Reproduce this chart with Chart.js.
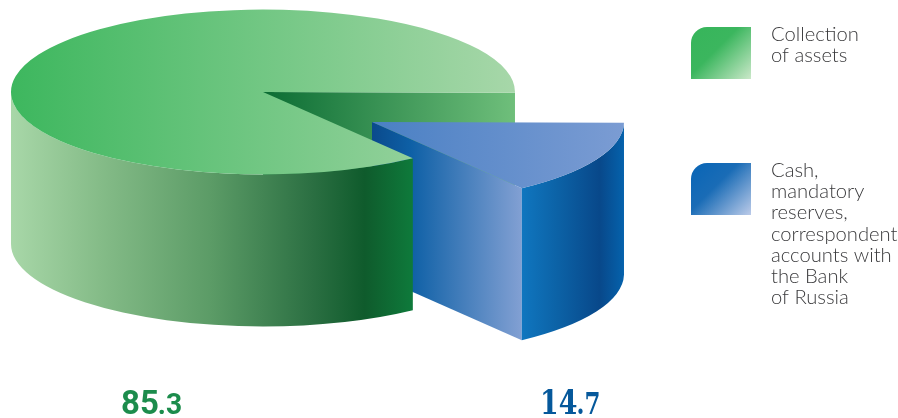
<!DOCTYPE html>
<html>
<head>
<meta charset="utf-8">
<title>Assets</title>
<script src="https://cdn.jsdelivr.net/npm/chart.js@4"></script>
<style>
  html, body { margin: 0; padding: 0; background: #fff; }
  #box { position: relative; width: 898px; height: 418px; overflow: hidden; }
</style>
</head>
<body>
<div id="box"><canvas id="pie" width="898" height="418"></canvas></div>
<script>
// drawn clockwise from 3 o'clock, the small slice first
var categories = ['Cash, mandatory reserves, correspondent accounts with the Bank of Russia', 'Collection of assets'];
var values = [14.7, 85.3];
var legendLines = [
    ['Cash,', 'mandatory', 'reserves,', 'correspondent', 'accounts with', 'the Bank', 'of Russia'],
    ['Collection', 'of assets']
];

var TILT = 0.327;
var DEPTH = 152;
var RADIUS = 252;

var looks = [
    {
        pos: { x: 372, y: 122 },
        top: [[0, '#4a80c4'], [1, '#7b9cd3']],
        cut: [[0, '#0a4a8c'], [0.26, '#0e60a6'], [1, '#82a0d3']],
        side: [[0, '#0f76bf'], [0.35, '#0c62a6'], [0.76, '#08488a'], [1, '#0562ac']],
        swatch: { x: 691, y: 163, w: 60, h: 52, from: '#0b66b6', mid: '#1a6cb6', to: '#bccbe9' },
        textY: 177,
        value: { x: 540, color: '#05589b', font: '"DejaVu Serif"', squeeze: 0.79 }
    },
    {
        pos: { x: 263, y: 92 },
        top: [[0, '#3db75e'], [1, '#a7d7a9']],
        cut: [[0, '#0b6c33'], [1, '#6fbf7b']],
        side: [[0, '#a8d7a8'], [0.22, '#85bc88'], [0.5, '#5b9b66'], [0.75, '#2b6f42'], [0.88, '#0f5b2c'], [1, '#0e7a3b']],
        swatch: { x: 691, y: 27, w: 60, h: 52, from: '#37b55b', mid: '#3bb65e', to: '#cbe8c9' },
        textY: 41,
        value: { x: 121, color: '#1c8c4c', font: 'Roboto', squeeze: 0.97 }
    }
];

function horizontal(ctx, x0, x1, stops) {
    var g = ctx.createLinearGradient(x0, 0, x1, 0);
    stops.forEach(function (s) { g.addColorStop(s[0], s[1]); });
    return g;
}

// straight walls of the slice, only those turned to the viewer
function drawCutWalls(ctx, arc, look) {
    var p = look.pos, r = arc.outerRadius, ry = r * TILT;
    [[arc.endAngle, 1], [arc.startAngle, -1]].forEach(function (w) {
        var c = Math.cos(w[0]), s = Math.sin(w[0]);
        if (c * w[1] <= 0) return;
        var rx = p.x + r * c, rimY = p.y + ry * s;
        ctx.beginPath();
        ctx.moveTo(p.x, p.y);
        ctx.lineTo(rx, rimY);
        ctx.lineTo(rx, rimY + DEPTH);
        ctx.lineTo(p.x, p.y + DEPTH);
        ctx.closePath();
        ctx.fillStyle = horizontal(ctx, p.x, rx, look.cut);
        ctx.fill();
    });
}

// curved outer wall, the part on the front half of the ellipse
function drawSideWall(ctx, arc, look) {
    var p = look.pos, r = arc.outerRadius, ry = r * TILT;
    var from = Math.max(arc.startAngle, 0), to = Math.min(arc.endAngle, Math.PI);
    if (to <= from) return;
    ctx.beginPath();
    ctx.ellipse(p.x, p.y, r, ry, 0, from, to);
    ctx.ellipse(p.x, p.y + DEPTH, r, ry, 0, to, from, true);
    ctx.closePath();
    ctx.fillStyle = horizontal(ctx, p.x + r * Math.cos(to), p.x + r * Math.cos(from), look.side);
    ctx.fill();
}

function drawTop(ctx, arc, look) {
    ctx.save();
    ctx.translate(look.pos.x, look.pos.y);
    ctx.scale(1, TILT);
    ctx.translate(-arc.x, -arc.y);
    arc.draw(ctx);
    ctx.restore();
}

var pie3d = {
    id: 'pie3d',
    beforeDatasetsDraw: function (chart) {
        var ctx = chart.ctx, arcs = chart.getDatasetMeta(0).data;
        // the big slice's inner wall sits behind the small slice, its front goes over it
        drawCutWalls(ctx, arcs[1], looks[1]);
        drawCutWalls(ctx, arcs[0], looks[0]);
        drawSideWall(ctx, arcs[0], looks[0]);
        drawTop(ctx, arcs[0], looks[0]);
        drawSideWall(ctx, arcs[1], looks[1]);
        drawTop(ctx, arcs[1], looks[1]);
        return false;
    },
    afterDraw: function (chart) {
        var ctx = chart.ctx;
        looks.forEach(function (look, i) {
            var sw = look.swatch;
            var g = ctx.createLinearGradient(sw.x + 8, sw.y, sw.x + sw.w, sw.y + sw.h);
            g.addColorStop(0, sw.from);
            g.addColorStop(0.38, sw.mid);
            g.addColorStop(1, sw.to);
            ctx.fillStyle = g;
            ctx.beginPath();
            ctx.roundRect(sw.x, sw.y, sw.w, sw.h, [16, 0, 0, 0]);
            ctx.fill();

            ctx.fillStyle = '#3a3a3c';
            ctx.font = '300 20.2px Lato';
            ctx.textBaseline = 'alphabetic';
            legendLines[i].forEach(function (line, k) {
                ctx.fillText(line, 771, look.textY + k * 21.2);
            });

            var parts = values[i].toFixed(1).split('.');
            ctx.save();
            ctx.translate(look.value.x, 414);
            ctx.scale(look.value.squeeze, 1);
            ctx.fillStyle = look.value.color;
            ctx.font = 'bold 34px ' + look.value.font;
            ctx.fillText(parts[0], 0, 0);
            var w = ctx.measureText(parts[0]).width;
            ctx.font = 'bold 29px ' + look.value.font;
            ctx.fillText('.' + parts[1], w - 1, 0);
            ctx.restore();
        });
    }
};

new Chart(document.getElementById('pie'), {
    type: 'pie',
    data: {
        labels: categories,
        datasets: [{
            data: values,
            borderWidth: 0,
            radius: RADIUS,
            backgroundColor: function (c) {
                var area = c.chart.chartArea, look = looks[c.dataIndex];
                if (!area) return look.top[0][1];
                var cx = (area.left + area.right) / 2;
                // big slice spans the full width, the small one only its right half
                var x0 = c.dataIndex === 1 ? cx - RADIUS : cx;
                return horizontal(c.chart.ctx, x0, cx + RADIUS, look.top);
            }
        }]
    },
    options: {
        responsive: false,
        animation: false,
        rotation: 90.6,
        events: [],
        plugins: { legend: { display: false }, tooltip: { enabled: false } }
    },
    plugins: [pie3d]
});
</script>
</body>
</html>
